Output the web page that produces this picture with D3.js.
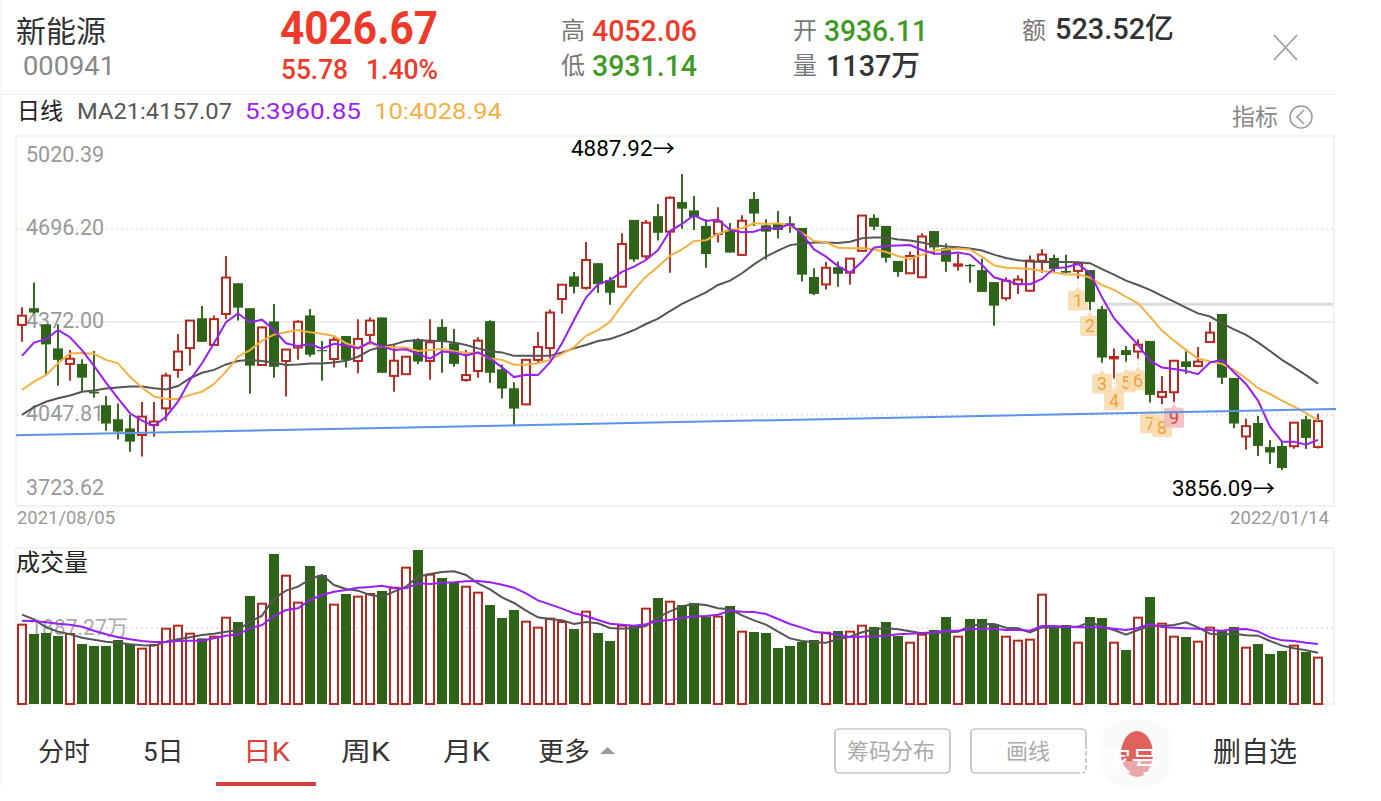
<!DOCTYPE html>
<html>
<head>
<meta charset="utf-8">
<title>新能源 000941</title>
<script src="https://cdn.jsdelivr.net/npm/d3@7"></script>
<style>
  html, body { margin: 0; padding: 0; background: #fff; }
  svg { display: block; }
  text { font-family: Roboto, "Noto Sans CJK SC", sans-serif; }
</style>
</head>
<body>
<svg id="chart" width="1381" height="801"></svg>
<script>
const opens = [4362,4420,4364,4280,4226,4226,4129,4082,4033,4001,3978,4013,4071,4205,4281,4385,4292,4400,4507,4420,
  4222,4374,4236,4283,4395,4274,4243,4323,4236,4327,4388,4184,4190,4312,4236,4355,4298,4170,4201,4375,
  4207,4141,4085,4240,4281,4452,4531,4491,4577,4518,4495,4728,4601,4741,4687,4790,4761,4707,4679,4693,
  4606,4801,4709,4716,4716,4700,4529,4503,4563,4544,4620,4735,4707,4585,4542,4528,4689,4629,4568,4571,
  4553,4511,4455,4504,4481,4585,4595,4550,4550,4553,4417,4245,4274,4269,4306,4111,4127,4235,4219,4302,
  4400,4177,3973,4020,3936,3940,3939,4033,3936.11];
const closes = [4394,4405,4294,4240,4244,4178,4123,4018,3990,3955,4042,4025,4185,4269,4377,4303,4382,4527,4422,4220,
  4353,4216,4276,4373,4258,4270,4310,4240,4313,4377,4195,4237,4251,4234,4301,4303,4226,4187,4307,4195,
  4140,4070,4240,4285,4405,4502,4495,4588,4504,4474,4644,4590,4718,4683,4805,4767,4737,4609,4722,4614,
  4725,4750,4687,4693,4708,4537,4470,4561,4540,4593,4743,4704,4596,4546,4602,4670,4632,4582,4573,4566,
  4477,4429,4516,4520,4586,4607,4557,4544,4577,4442,4248,4250,4257,4293,4118,4128,4237,4215,4234,4335,
  4178,4018,4009,3940,3917,3863,4021,3968,4026.67];
const highs = [4423,4510,4364,4364,4274,4242,4271,4114,4088,4048,4093,4093,4195,4330,4379,4428,4395,4602,4507,4420,
  4356,4435,4278,4378,4417,4306,4321,4323,4382,4388,4388,4292,4251,4315,4382,4382,4348,4274,4319,4378,
  4224,4162,4242,4337,4416,4503,4546,4651,4577,4529,4681,4728,4728,4783,4810,4887.92,4811,4730,4772,4717,
  4744,4825,4730,4759,4741,4700,4559,4581,4583,4593,4743,4748,4707,4585,4618,4681,4689,4646,4609,4574,
  4593,4511,4528,4535,4604,4626,4606,4606,4582,4553,4428,4280,4288,4312,4306,4184,4237,4270,4285,4372,
  4400,4177,4036,4044,3961,3954,4022,4045,4052.06];
const lows = [4303,4402,4187,4150,4167,4131,4108,3993,3962,3920,3903,3972,4028,4178,4220,4303,4290,4382,4377,4122,
  4220,4178,4112,4240,4251,4167,4213,4213,4193,4298,4195,4129,4187,4226,4171,4195,4216,4164,4178,4160,
  4105,4013,4082,4231,4245,4401,4471,4484,4474,4432,4493,4582,4590,4656,4544,4697,4693,4561,4649,4614,
  4603,4707,4590,4663,4683,4513,4466,4485,4495,4502,4617,4693,4579,4530,4540,4527,4606,4547,4551,4509,
  4477,4359,4446,4470,4478,4544,4542,4542,4524,4414,4230,4176,4234,4245,4091,4086,4094,4192,4214,4301,
  4156,4002,3927,3905,3877,3856.09,3930,3929,3931.14];

const ma21 = [4048,4075,4094,4106,4116,4129,4133,4140,4144,4147,4147,4141,4137,4149,4176,4195,4205,4224,4236,4240,
  4236,4231,4222,4224,4227,4227,4231,4237,4251,4274,4286,4294,4306,4308,4307,4306,4301,4292,4280,4270,
  4266,4254,4254,4254,4254,4266,4280,4292,4306,4313,4327,4344,4365,4384,4410,4435,4455,4475,4501,4516,
  4542,4573,4600,4621,4640,4646,4649,4649,4647,4652,4664,4667,4667,4660,4656,4649,4640,4635,4633,4628,
  4621,4607,4595,4587,4583,4581,4581,4581,4580,4577,4556,4537,4516,4501,4484,4463,4443,4422,4402,4391,
  4367,4346,4327,4301,4271,4240,4214,4187,4157.07];
const ma5 = [4254,4300,4312,4344,4319,4274,4219,4161,4106,4054,4028,4009,4042,4094,4170,4228,4298,4371,4402,4371,
  4380,4344,4298,4288,4295,4279,4296,4290,4280,4302,4286,4274,4277,4261,4244,4269,4266,4255,4266,4245,
  4214,4180,4188,4187,4231,4298,4379,4457,4503,4518,4547,4565,4588,4623,4689,4714,4744,4724,4729,4693,
  4685,4687,4700,4697,4714,4679,4625,4600,4567,4544,4582,4631,4637,4639,4640,4623,4611,4609,4614,4607,
  4571,4528,4516,4504,4504,4522,4559,4563,4574,4542,4458,4385,4338,4292,4237,4213,4208,4201,4190,4231,
  4240,4197,4156,4098,4007,3955,3955,3944,3960.85];
const ma10 = [4135,4164,4187,4228,4262,4264,4261,4240,4228,4181,4144,4112,4104,4104,4118,4129,4156,4199,4251,4274,
  4307,4328,4336,4344,4336,4331,4323,4298,4283,4297,4286,4284,4283,4271,4274,4278,4270,4265,4263,4245,
  4240,4223,4223,4228,4240,4261,4284,4324,4344,4373,4431,4484,4530,4565,4603,4625,4654,4657,4679,4693,
  4699,4716,4714,4716,4708,4683,4654,4650,4631,4629,4630,4625,4616,4602,4592,4606,4621,4625,4628,4625,
  4600,4570,4561,4559,4557,4550,4545,4538,4538,4527,4501,4484,4460,4437,4391,4342,4307,4274,4245,4234,
  4226,4205,4176,4141,4121,4098,4077,4054,4028.94];

const volumes = [1944,1716,1740,1667,1716,1471,1422,1422,1569,1471,1356,1446,1846,1920,1724,1609,1650,2116,2010,2647,
  2459,3677,3145,2484,3382,3162,2435,2696,2631,2696,2770,2851,3342,3775,3170,3088,2974,2876,2729,2426,
  2108,2304,2018,1871,2092,2010,1838,2263,1740,1544,1920,1912,2337,2598,2508,2426,2476,2141,2141,2402,
  1773,1765,1740,1373,1422,1520,1569,1748,1789,1773,1920,1887,2010,1667,1503,1699,1814,2132,1650,2083,
  2083,1961,1650,1552,1577,2680,1879,1936,1503,2132,2108,1503,1324,2116,2623,1969,1650,1642,1528,1871,
  1814,1887,1381,1471,1226,1299,1430,1275,1137];
const volMaShort = [2190,2075,1879,1773,1708,1626,1577,1528,1503,1462,1438,1430,1528,1585,1634,1691,1724,1773,1814,2018,
  2165,2590,2778,2876,3056,3162,2917,2819,2778,2672,2631,2753,2876,3121,3186,3235,3252,3162,2958,2810,
  2614,2476,2288,2124,2075,2051,1961,2010,1977,1863,1846,1863,1912,2124,2271,2394,2451,2426,2345,2320,
  2173,2051,1944,1773,1609,1544,1511,1503,1585,1650,1757,1830,1855,1830,1781,1732,1732,1757,1773,1912,
  1953,1961,1871,1855,1757,1879,1871,1895,1895,2010,1895,1814,1699,1814,1912,1912,1936,2002,1879,1724,
  1699,1724,1683,1675,1544,1430,1364,1315,1258];
const volMaLong = [2042,2034,2002,1969,1944,1895,1797,1708,1634,1585,1544,1520,1520,1544,1552,1552,1610,1675,1708,1855,
  1936,2157,2304,2345,2549,2672,2753,2794,2851,2868,2900,2835,2835,2958,2942,2974,2982,3007,3015,2982,
  2925,2851,2712,2541,2443,2337,2222,2157,2059,1969,1944,1920,1953,2034,2059,2108,2149,2157,2190,2288,
  2263,2255,2206,2083,1961,1871,1773,1732,1699,1642,1650,1659,1675,1708,1724,1740,1757,1797,1797,1830,
  1846,1846,1814,1814,1797,1912,1912,1895,1879,1879,1879,1846,1814,1863,1961,1887,1871,1855,1846,1814,
  1797,1830,1838,1781,1634,1560,1544,1503,1471];

const priceTicks = [5020.39, 4696.20, 4372.00, 4047.81, 3723.62];
const volumeMid = 1887.27;
const volumeMax = 3774.54;
const dateLabels = ["2021/08/05", "2022/01/14"];
const sequenceLabels = ["1", "2", "3", "4", "5", "6", "7", "8", "9"];
const sequenceStart = 88;
const trendLine = [{ i: -0.5, price: 3977 }, { i: 109.5, price: 4069 }];
const resistance = [{ i: 90, price: 4434 }, { i: 109.25, price: 4434 }];

const red = "#b8281e";
const green = "#2d6418";
const purple = "#9a1ff2";
const orange = "#f5b042";
const darkLine = "#555";
const paneLine = "#eeeeee";

const svg = d3.select("#chart");
const x = d3.scaleLinear().domain([0, opens.length - 1]).range([22, 1318]);
const y = d3.scaleLinear().domain([3723.62, 5020.39]).range([508, 136]);
const yVol = d3.scaleLinear().domain([0, volumeMax]).range([704, 550]);
const indexes = d3.range(opens.length);

function label(text, px, py, size, fill, opts = {}) {
  const t = svg.append("text")
    .attr("x", px).attr("y", py)
    .attr("font-size", size)
    .attr("fill", fill)
    .attr("dominant-baseline", "central")
    .text(text);
  if (opts.width) t.attr("textLength", opts.width).attr("lengthAdjust", "spacingAndGlyphs");
  if (opts.weight) t.attr("font-weight", opts.weight);
  if (opts.anchor) t.attr("text-anchor", opts.anchor);
  return t;
}

// header
svg.append("line").attr("x1", 1).attr("x2", 1).attr("y1", 0).attr("y2", 786).attr("stroke", paneLine);
svg.append("line").attr("x1", 0).attr("x2", 1336).attr("y1", 94.5).attr("y2", 94.5).attr("stroke", paneLine);
label("新能源", 16, 31, 30, "#333");
label("000941", 23, 66, 26, "#888", { width: 92 });
label("4026.67", 280, 28, 46, "#ee3a2a", { width: 158, weight: 700 });
label("55.78", 281, 69, 28, "#ee3a2a", { width: 67, weight: 500 });
label("1.40%", 366, 69, 28, "#ee3a2a", { width: 72, weight: 500 });
label("高", 561, 31, 24, "#777");
label("4052.06", 592, 31, 29, "#ee3a2a", { width: 105, weight: 500 });
label("低", 561, 66, 24, "#777");
label("3931.14", 592, 66, 29, "#3f9a23", { width: 105, weight: 500 });
label("开", 793, 31, 24, "#777");
label("3936.11", 824, 31, 29, "#3f9a23", { width: 104, weight: 500 });
label("量", 793, 66, 24, "#777");
label("1137万", 826, 66, 29, "#333", { width: 94, weight: 500 });
label("额", 1022, 31, 24, "#777");
label("523.52亿", 1055, 29, 29, "#333", { width: 119, weight: 500 });
svg.append("path").attr("d", "M1274,35L1297,60M1297,35L1274,60").attr("stroke", "#999").attr("stroke-width", 1.6).attr("fill", "none");

label("日线", 17, 111, 23, "#222");
label("MA21:4157.07", 77, 111, 22, "#555", { width: 155 });
label("5:3960.85", 245, 111, 22, purple, { width: 116 });
label("10:4028.94", 374, 111, 22, orange, { width: 128 });
label("指标", 1232, 117, 23, "#888");
svg.append("circle").attr("cx", 1301).attr("cy", 117).attr("r", 11).attr("fill", "none").attr("stroke", "#999").attr("stroke-width", 1.5);
svg.append("path").attr("d", "M1304,110L1297,117L1304,124").attr("fill", "none").attr("stroke", "#999").attr("stroke-width", 1.5);

// price pane
svg.append("rect").attr("x", 16).attr("y", 136).attr("width", 1318).attr("height", 370)
  .attr("fill", "none").attr("stroke", paneLine).attr("stroke-width", 1.5);

svg.append("g").selectAll("line")
  .data(priceTicks.slice(1, 4))
  .join("line")
  .attr("x1", 16).attr("x2", 1334)
  .attr("y1", d => y(d)).attr("y2", d => y(d))
  .attr("stroke", (d, i) => i === 1 ? "#e8e8e8" : "#e2e2e2")
  .attr("stroke-width", 1.3)
  .attr("stroke-dasharray", (d, i) => i === 1 ? null : "2,3");

const priceAxis = svg.append("g")
  .attr("transform", "translate(26,0)")
  .call(d3.axisRight(y).tickValues(priceTicks).tickFormat(d3.format(".2f")).tickSize(0).tickPadding(0));
priceAxis.select(".domain").remove();
priceAxis.selectAll("text")
  .attr("font-size", 21.5)
  .attr("font-family", "Roboto")
  .attr("fill", "#999")
  .attr("dy", d => d === 5020.39 ? "1.2em" : d === 3723.62 ? "-0.65em" : "0.27em");

// numbered sequence tags under the last candles, each sits its own gap below the low
const tagGaps = [8, 2, 7, 8, 7, 8, 7, 9, 2];
const tags = svg.append("g");
sequenceLabels.forEach((text, n) => {
  const i = sequenceStart + n;
  const tipY = y(lows[i]) + tagGaps[n];
  const isLast = n === sequenceLabels.length - 1;
  const fill = isLast ? "#f1b9b9" : "#f8d9ab";
  tags.append("line")
    .attr("x1", x(i)).attr("x2", x(i))
    .attr("y1", y(lows[i])).attr("y2", tipY)
    .attr("stroke", fill).attr("stroke-width", 1.5).attr("stroke-dasharray", "2,2");
  tags.append("path")
    .attr("transform", `translate(${x(i)},${tipY})`)
    .attr("d", "M-10,6Q-10,4 -8,4L-3,4L0,0L3,4L8,4Q10,4 10,6L10,22Q10,24 8,24L-8,24Q-10,24 -10,22Z")
    .attr("fill", fill)
    .attr("fill-opacity", 0.85);
  tags.append("text")
    .attr("x", x(i)).attr("y", tipY + 14)
    .attr("text-anchor", "middle")
    .attr("dominant-baseline", "central")
    .attr("font-size", 18)
    .attr("fill", isLast ? "#d8413a" : "#f2a33c")
    .text(text);
});

// resistance line
const lineTrend = d3.line().x(d => x(d.i)).y(d => y(d.price));
svg.append("path").attr("d", lineTrend(resistance)).attr("fill", "none").attr("stroke", "#d9d9d9").attr("stroke-width", 3);

// candles
const isUp = i => closes[i] >= opens[i];
const color = i => isUp(i) ? red : green;
const candle = svg.append("g").selectAll("g").data(indexes).join("g");
candle.append("line")
  .attr("x1", i => x(i)).attr("x2", i => x(i))
  .attr("y1", i => y(highs[i])).attr("y2", i => y(lows[i]))
  .attr("stroke", color).attr("stroke-width", 1.9);
candle.append("rect")
  .attr("x", i => x(i) - (isUp(i) ? 4 : 5))
  .attr("width", i => isUp(i) ? 8 : 10)
  .attr("y", i => y(Math.max(opens[i], closes[i])))
  .attr("height", i => Math.max(1, Math.abs(y(opens[i]) - y(closes[i]))))
  .attr("fill", i => isUp(i) ? "#fff" : green)
  .attr("stroke", i => isUp(i) ? red : "none")
  .attr("stroke-width", 2);

// moving averages
const priceLine = d3.line().x((d, i) => x(i)).y(d => y(d));
[[ma21, darkLine], [ma10, orange], [ma5, purple]].forEach(([series, stroke]) => {
  svg.append("path").attr("d", priceLine(series)).attr("fill", "none").attr("stroke", stroke).attr("stroke-width", 2);
});

// trend line
svg.append("path").attr("d", lineTrend(trendLine)).attr("fill", "none").attr("stroke", "#5b93e8").attr("stroke-width", 2);

label("4887.92→", 571, 148, 22, "#000", { width: 104 });
label("3856.09→", 1172, 488, 22, "#000", { width: 103 });
label(dateLabels[0], 17, 517, 18, "#999", { width: 98 });
label(dateLabels[1], 1230, 517, 18, "#999", { width: 99 });

// volume pane
svg.append("rect").attr("x", 16).attr("y", 548).attr("width", 1318).attr("height", 156)
  .attr("fill", "none").attr("stroke", paneLine).attr("stroke-width", 1.5);
svg.append("line")
  .attr("x1", 16).attr("x2", 1334)
  .attr("y1", yVol(volumeMid) + 1).attr("y2", yVol(volumeMid) + 1)
  .attr("stroke", "#e2e2e2").attr("stroke-width", 1.3).attr("stroke-dasharray", "2,3");
label("成交量", 16, 563, 24, "#222");
label("1887.27万", 30, 627, 21.5, "#aaa", { width: 98 });

svg.append("g").selectAll("rect").data(indexes).join("rect")
  .attr("x", i => x(i) - (isUp(i) ? 4 : 5))
  .attr("width", i => isUp(i) ? 8 : 10)
  .attr("y", i => yVol(volumes[i]))
  .attr("height", i => yVol(0) - yVol(volumes[i]))
  .attr("fill", i => isUp(i) ? "none" : green)
  .attr("stroke", i => isUp(i) ? red : "none")
  .attr("stroke-width", 2);

const volLine = d3.line().x((d, i) => x(i)).y(d => yVol(d));
[[volMaShort, darkLine], [volMaLong, purple]].forEach(([series, stroke]) => {
  svg.append("path").attr("d", volLine(series)).attr("fill", "none").attr("stroke", stroke).attr("stroke-width", 2);
});

// bottom tabs
label("分时", 38, 752, 26, "#333");
label("5日", 143, 752, 26, "#333");
label("日K", 243, 752, 26, "#d9413a", { width: 47 });
svg.append("rect").attr("x", 216).attr("y", 782).attr("width", 100).attr("height", 4).attr("fill", "#d33f3a");
label("周K", 341, 752, 26, "#333", { width: 49 });
label("月K", 443, 752, 26, "#333", { width: 47 });
label("更多", 538, 752, 26, "#333");
svg.append("path").attr("d", "M600,754L607.5,747L615,754Z").attr("fill", "#999");

[[835, "筹码分布", 847], [971, "画线", 1006]].forEach(([left, text, tx]) => {
  svg.append("rect").attr("x", left).attr("y", 729).attr("width", 115).attr("height", 44).attr("rx", 4)
    .attr("fill", "#fff").attr("stroke", "#aaa").attr("stroke-width", 1.2);
  label(text, tx, 751, 22, "#aaa");
});

// red badge under the white watermark
const badge = svg.append("defs").append("linearGradient").attr("id", "badge").attr("x1", 0).attr("x2", 0).attr("y1", 0).attr("y2", 1);
badge.append("stop").attr("offset", "0.65").attr("stop-color", "#e0605c");
badge.append("stop").attr("offset", "0.65").attr("stop-color", "#eaa9a8");
svg.append("rect").attr("x", 1100).attr("y", 720).attr("width", 72).attr("height", 66).attr("rx", 26).attr("fill", "#fafafa");
svg.append("ellipse").attr("cx", 1137).attr("cy", 754).attr("rx", 16).attr("ry", 23).attr("fill", "url(#badge)");
label("删自选", 1213, 752, 28, "#333", { width: 84 });
label("百家号", 1075, 762, 28, "#fff", { width: 84 });
</script>
</body>
</html>
